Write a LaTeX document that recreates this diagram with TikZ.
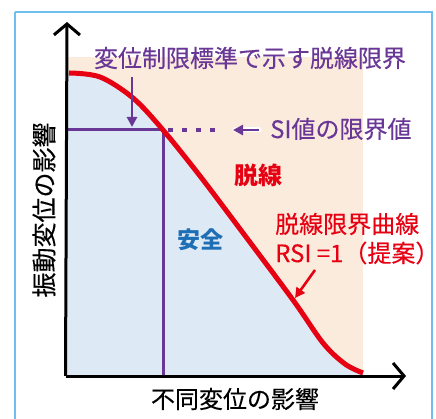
\documentclass[tikz,border=0pt]{standalone}
\usepackage{fontspec}
\setmainfont{Noto Sans CJK JP}
\newfontfamily\cjkmed[FakeBold=0.25]{Noto Sans CJK JP}
\usetikzlibrary{arrows.meta}
\definecolor{peach}{RGB}{251,235,221}
\definecolor{pale}{RGB}{221,234,246}
\definecolor{rline}{RGB}{230,0,18}
\definecolor{purp}{RGB}{105,55,150}
\definecolor{safeblue}{RGB}{30,110,181}
\definecolor{frame}{RGB}{110,190,240}
\tikzset{
  lbl/.style={inner sep=0pt, font=\fontsize{24}{26}\selectfont\cjkmed},
  blbl/.style={inner sep=0pt, font=\fontsize{24}{26}\selectfont\bfseries},
  axis/.style={line width=3pt, -{Straight Barb[length=11pt,width=26pt,line width=3pt]}},
  plim/.style={purp, line width=3pt},
  ptip/.style={purp, line width=2.6pt, -{Triangle[length=10pt,width=10pt]}},
}
\begin{document}
\begin{tikzpicture}[x=1pt,y=-1pt]
\useasboundingbox (0,0) rectangle (436,419);
\clip (0,0) rectangle (436,419);
\fill[white] (0,0) rectangle (436,419);
\draw[frame, line width=1.2pt] (15,12) -- (432,12) -- (432,440) (15,12) -- (15,440);
% regions
\fill[peach] (67,57) rectangle (363,376);
\def\curve{(69,73) (100,77) (133,98) (163,130) (200,176) (240,229) (293,300) (323,343) (345,364) (363,373)}
\fill[pale] (67,73) -- plot[smooth, tension=0.55] coordinates {\curve} -- (363,376) -- (67,376) -- cycle;
% purple limits
\coordinate (hl) at (67,130);
\coordinate (cr) at (163,130);
\coordinate (vb) at (163,376);
\coordinate (de) at (224,130);
\draw[plim] (hl) -- (cr) -- (vb);
\draw[purp, line width=4pt, dash pattern=on 4.5pt off 9.5pt] ([xshift=5pt]cr) -- (de);
% curve
\draw[rline, line width=5pt, line cap=butt] plot[smooth, tension=0.55] coordinates {\curve};
% axes
\coordinate (o) at (67,376);
\coordinate (ytop) at (67,22);
\coordinate (xend) at (406,376);
\draw[axis] ([xshift=-1.5pt]o) -- (ytop);
\draw[axis] ([xshift=-1.5pt]o) -- (xend);
% labels
\node[lbl, purp] (title) at (250,58) {変位制限標準で示す脱線限界};
\coordinate (da1) at (132,77);
\coordinate (da2) at (132,127);
\draw[ptip] (da1) -- (da2);
\node[lbl, purp, anchor=west] (si) at (270,129) {SI値の限界値};
\coordinate (sa1) at (259,130);
\coordinate (sa2) at (233,130);
\draw[white, line width=5pt, line cap=round] (sa1) -- ([xshift=2pt]sa2);
\draw[ptip] (sa1) -- (sa2);
\node[blbl, rline] (dsn) at (258,175) {脱線};
\node[blbl, safeblue, font=\fontsize{23}{26}\selectfont\bfseries] (safe) at (200,240) {安全};
\node[lbl, rline, anchor=west] (c1) at (275,224) {脱線限界曲線};
\node[lbl, rline, anchor=west] (c2) at (275,253) {RSI =1（提案）};
\coordinate (ra1) at (315,270);
\coordinate (ra2) at (295,298);
\draw[rline, line width=2.6pt, -{Triangle[length=10pt,width=10pt]}] (ra1) -- (ra2);
\node[lbl, black] (xl) at (235,399) {不同変位の影響};
\node[lbl, black, rotate=90, font=\fontsize{25}{26}\selectfont\cjkmed] (yl) at (44,210) {振動変位の影響};
\end{tikzpicture}
\end{document}
